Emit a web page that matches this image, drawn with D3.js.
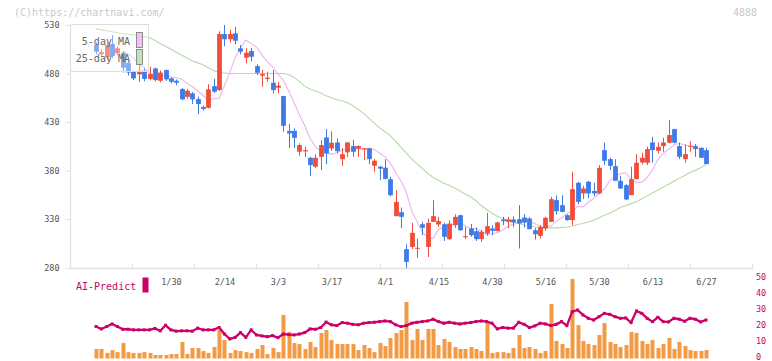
<!DOCTYPE html>
<html><head><meta charset="utf-8">
<script src="https://cdn.jsdelivr.net/npm/d3@7/dist/d3.min.js"></script>
<style>body{margin:0;background:#fff}svg{display:block}</style>
</head><body><svg id="c" width="772" height="361"></svg>
<script>
// ---- data ----
const tickLabels = ["1/30","2/14","3/3","3/17","4/1","4/15","4/30","5/16","5/30","6/13","6/27"];
const tickIndex  = [14,24,34,44,54,64,74,84,94,104,114];
const priceTicks = [280,330,380,430,480,530];
const rightTicks = [0,10,20,30,40,50];

const open  = [509.4,500,496.7,510.4,500.8,501.5,491,481.9,479.2,483,474.5,485.3,472.5,483.6,475,472.6,464,456,459.6,453.7,445.5,444.7,467,463,520.7,515.3,521.4,506,496.3,503.2,487.7,477.8,474.3,470.5,465.4,456.8,421,421,399.4,399.8,393.2,384,394.2,414.2,402.9,409,391.8,398.8,405.3,402.5,401.8,403,385,384,383,371.2,333.1,337.2,299.1,301.4,299.5,324.8,301.4,327.2,324.5,324.8,309.4,323.8,334.1,311.5,320.4,317.6,309.4,315.2,320.4,317.6,329.7,327.2,329.7,330,331.7,330.7,318.6,312.8,320.4,327.2,349.6,344.4,334.1,329,367.4,356.5,368.5,359,356.5,401.1,391.8,384.6,369.5,365,354.7,371.2,388.4,388.1,409,400.4,405.3,408.7,422.8,405.3,391.8,404.8,405.3,403.5,401.1];
const high  = [512,505,512,519.7,508,503,493,483,494,486,487,486,483,484,476,474,465,464,461,456,447,469,474.5,523.5,530,525,528,509.4,506,506.6,489.5,483.6,481.9,483.6,471.5,457,428,423.5,408,404.8,394,396.7,411.5,422.8,420.6,413.2,403,409.5,411.5,406.3,403,403.5,391.8,385,391.8,373.6,360,342,304.2,326.2,310,327.3,330.7,349.6,332.4,326.2,328.7,335,334.5,322,325,321.4,319,336.5,323.6,327.3,332.4,332.4,333,344.4,335,332,321,324,332.4,353,354.3,354.7,335,378.8,368.5,364.3,369.5,367.4,385.7,408.7,393.2,391.8,374.6,366,384,397,398.4,404.8,414.8,409,413.8,432,423,409,407,410.4,407.3,404,403.5];
const low   = [500,497,494,496,499,481,478,473.3,471.5,472,473,472,471,472.5,470,468,452.5,454,448.5,438,442,444,460,462,508,512,510,499.8,490.5,492.5,478.4,466.4,471.5,459.6,459.6,420,403.5,403.5,395.3,394,374.6,382.9,380.5,386.7,400.4,397.7,385,394,394.2,394.2,390.8,386.7,378.4,370.2,371,353.7,333,321,279.8,299.1,290,313.5,291,327.2,322,307.6,308.4,321,318,309.4,311.8,307.6,306.6,312.8,313.5,317.6,323.8,320.7,322,299.8,321.4,319.7,309,310,318,327,334.8,337,328.5,323.8,345.5,350.6,351.6,353.7,355.7,385.7,380.5,369.5,361,349.6,354.7,371.2,386.4,385.7,388.4,397.7,399.4,408,408,391.8,388,399.4,394.2,393,386.7];
const close = [502.5,502,509.4,498,506,486,481,475,482.9,474.5,479.5,473.3,481,474,471.5,470.5,453.4,462.3,453.4,448.6,443.5,463.7,461.3,520.7,515.3,520.7,513.8,502.5,501.5,497.3,480.8,479.5,475.7,463,467.5,426.2,418.3,413.8,406.3,401.1,385.7,393.2,406.3,397.7,408.7,400,397,409,399.4,405.3,402.9,391.8,390.2,382,371.5,354.7,347.8,332.4,286,315.9,300.5,321.1,326.2,333.1,328,311.8,325.5,332.4,318.6,312.5,313.5,309.4,317,322.8,318,326.6,328,329.7,326.6,325.5,326.6,319.7,314.5,322,331.4,350.6,338.2,337.5,329,360.9,347.8,361.6,356.5,356.5,382.9,390.1,384.9,369.5,361.6,350.3,371.2,388.1,393.2,402.2,401.1,404.5,409,416.6,408.7,394.2,397,405.5,402.2,393.2,386.7];
const volume = [6,6,3.5,5.3,4,9.7,4,3.5,3.5,4,3.5,2.2,2.2,2.2,2.8,2.8,10.4,2.8,6.6,6.6,4.7,3.5,7.2,17.9,11.6,3.5,5.3,4.7,4,3.5,6,8.5,2.8,6.6,4,27.4,16.7,9.7,9.1,6,10.4,7.2,16,17.9,11.6,9.1,9.1,9.1,9.1,5.3,8.5,6.6,4,9.7,7.8,12.9,16,17.9,35.5,11.6,18.6,11.6,18.6,18.6,8.5,12.3,10.4,7.2,6,6,7.2,6,4.7,22.3,3.5,4,4,3.5,6.6,14.8,6.6,7.2,6,3.5,4.7,34.3,11,9.1,6.6,50,21,11,9.1,8.5,14.8,22.3,10.4,9.1,7.2,8.5,16.7,16,11,9.1,11.6,6.6,9.1,12.9,6,10.4,7.8,5.3,4.7,4.7,5.3];
const aiPredict = [20.1,18.6,20.1,21.7,20.1,18.4,18.4,18,18,18,18,18.9,17.4,20.9,18,17.2,17.4,17.4,17.2,19.1,18,18,18,19.5,15.4,12.3,13.3,16.3,13.3,18,14.8,14.2,13.7,14.4,13.1,15.4,15,14.8,15.4,16.3,18.6,18.4,19.5,22.9,21.2,20.7,22.6,22.2,21.5,21.2,22.2,22.6,22.8,23.2,23.6,23.2,21.2,20.1,20.7,22.2,22.8,23.2,23.6,24.7,23.2,22.2,22.8,22.2,21.7,22.2,22.6,23.2,23.6,23.2,22.2,18.6,19.5,19.1,19.1,22.8,21.5,19.5,20.5,22.2,21.7,20.7,21.5,23.2,20.7,29.5,30.5,27.4,25.3,24.2,26.3,28.4,27.8,26.3,25.3,25.5,22.6,29.9,28.4,25.3,23.2,25.9,23.2,23,25.3,24.7,23.4,25.3,24.7,23,24.2];
const ma25 = [526,525,524,523,522,521,520.5,520,519,518,517,514,511,508,505,502,499,496,493,491,489,486,483,481,480.5,480,480,480,480,480,480,480,480,480,480,480,479,476,472,467,464,462,460,457,455,453,452,450,447,443,439,434,429,424,420,416,410,404,398,392,387,382,377,373,370,367,365,362,359,356,353,349,344,340,336,333,331,329,327,325.5,324,323,322,321.5,321,321,321,321.5,322,323,324.5,325.5,327,329,331.5,334,336,339,342,344,346,348,351,354,357,360,363,366,369,372,375,378,380.5,383,386];
// 5-day MA as drawn on the reference: mean of the 5 preceding closes
const ma5 = close.map((_, i) => i < 5 ? null : d3.mean(close.slice(i - 5, i)));

// ---- drawing ----
const svg = d3.select("#c");
const FONT = "'DejaVu Sans Mono', 'Liberation Mono', monospace";
const RED = "#f04e3a", BLUE = "#3f7be8";

const x = d3.scaleLinear().domain([0, close.length - 1]).range([96, 706]);
const y = d3.scaleLinear().domain([280, 530]).range([267.7, 25]);
const vy = d3.scaleLinear().domain([0, 50]).range([358.5, 279]);
const gridX = d3.scaleLinear().domain([0, 11]).range([70.5, 752.5]);

// watermark
svg.append("text").attr("x", 14).attr("y", 16).text("(C)https://chartnavi.com/")
  .attr("font-family", FONT).attr("font-size", 10).attr("fill", "#c8c8c8");
svg.append("text").attr("x", 757).attr("y", 16).attr("text-anchor", "end").text("4888")
  .attr("font-family", FONT).attr("font-size", 10).attr("fill", "#c8c8c8");

// axes frame
svg.append("line").attr("x1", 70.5).attr("x2", 70.5).attr("y1", 25).attr("y2", 268.5)
  .attr("stroke", "#e2e2e2").attr("stroke-width", 1.2);
svg.append("line").attr("x1", 70).attr("x2", 753).attr("y1", 268.5).attr("y2", 268.5)
  .attr("stroke", "#e2e2e2").attr("stroke-width", 1.5);
svg.append("g").selectAll("line").data(d3.range(1, 12)).join("line")
  .attr("x1", d => gridX(d)).attr("x2", d => gridX(d)).attr("y1", 264).attr("y2", 268.5)
  .attr("stroke", "#e2e2e2").attr("stroke-width", 1.2);

// left price axis
const ya = svg.append("g").attr("transform", "translate(70.5,0)")
  .call(d3.axisLeft(y).tickValues(priceTicks).tickSize(5).tickPadding(6));
ya.select(".domain").remove();
ya.selectAll(".tick line").attr("stroke", "#e2e2e2");
ya.selectAll(".tick text").attr("font-family", FONT).attr("font-size", 8.5).attr("fill", "#555");

// date labels
const xa = svg.append("g").attr("transform", "translate(0,275)")
  .call(d3.axisBottom(x).tickValues(tickIndex).tickFormat((d, i) => tickLabels[i]).tickSize(0).tickPadding(4));
xa.select(".domain").remove();
xa.selectAll(".tick text").attr("font-family", FONT).attr("font-size", 8.5).attr("fill", "#555");

// moving averages
const lineGen = d3.line().defined(d => d != null).x((d, i) => x(i)).y(d => y(d));
svg.append("path").datum(ma25).attr("d", lineGen).attr("fill", "none")
  .attr("stroke", "#b4dba6").attr("stroke-width", 1.1);
svg.append("path").datum(ma5).attr("d", lineGen).attr("fill", "none")
  .attr("stroke", "#ecb4ec").attr("stroke-width", 1.1);

// candles
const idx = d3.range(close.length);
const cg = svg.append("g");
cg.selectAll("line.w").data(idx).join("line").attr("class", "w")
  .attr("x1", i => Math.round(x(i)) + 0.5).attr("x2", i => Math.round(x(i)) + 0.5)
  .attr("y1", i => y(high[i])).attr("y2", i => y(low[i]))
  .attr("stroke", i => close[i] >= open[i] ? RED : BLUE).attr("stroke-width", 1);
cg.selectAll("rect").data(idx).join("rect")
  .attr("x", i => Math.round(x(i)) + 0.5 - 2.4).attr("width", 4.8)
  .attr("y", i => y(Math.max(open[i], close[i])))
  .attr("height", i => Math.max(1, Math.abs(y(open[i]) - y(close[i]))))
  .attr("fill", i => close[i] >= open[i] ? RED : BLUE);

// legend
svg.append("rect").attr("x", 70.5).attr("y", 24.5).attr("width", 78).attr("height", 47)
  .attr("fill", "#fff").attr("fill-opacity", 0.35).attr("stroke", "#dddddd");
[["5-day MA", "#f0c4ee", 41], ["25-day MA", "#c4e3b7", 58]].forEach(([t, col, cy]) => {
  svg.append("text").attr("x", 130).attr("y", cy + 3.5).attr("text-anchor", "end").text(t)
    .attr("font-family", FONT).attr("font-size", 10).attr("fill", "#666");
  svg.append("rect").attr("x", 136.5).attr("y", cy - 8.5).attr("width", 6).attr("height", 15)
    .attr("fill", col).attr("stroke", "#777").attr("stroke-width", 0.8);
});

// lower panel: AI-Predict legend
svg.append("text").attr("x", 76).attr("y", 289.5).text("AI-Predict")
  .attr("font-family", FONT).attr("font-size", 10).attr("fill", "#cc0066");
svg.append("rect").attr("x", 142.5).attr("y", 277.5).attr("width", 6).attr("height", 15).attr("fill", "#cc0066");

// volume bars
svg.append("g").selectAll("rect").data(idx).join("rect")
  .attr("x", i => Math.round(x(i)) + 0.5 - 2).attr("width", 4)
  .attr("y", i => vy(volume[i])).attr("height", i => vy(0) - vy(volume[i]))
  .attr("fill", "#f39a45");

// AI-Predict line
svg.append("path").datum(aiPredict)
  .attr("d", d3.line().x((d, i) => x(i)).y(d => vy(d)))
  .attr("fill", "none").attr("stroke", "#cc0066").attr("stroke-width", 2.3);
svg.append("g").selectAll("rect").data(idx).join("rect")
  .attr("x", i => x(i) - 1.5).attr("y", i => vy(aiPredict[i]) - 1.5)
  .attr("width", 3).attr("height", 3).attr("fill", "#cc0066");

// right axis
const ra = svg.append("g").attr("transform", "translate(752,0)")
  .call(d3.axisRight(vy).tickValues(rightTicks).tickSize(0).tickPadding(4));
ra.select(".domain").remove();
ra.selectAll(".tick text").attr("font-family", FONT).attr("font-size", 8.5).attr("fill", "#cc0066")
  .attr("dy", "0.1em");
</script></body></html>
